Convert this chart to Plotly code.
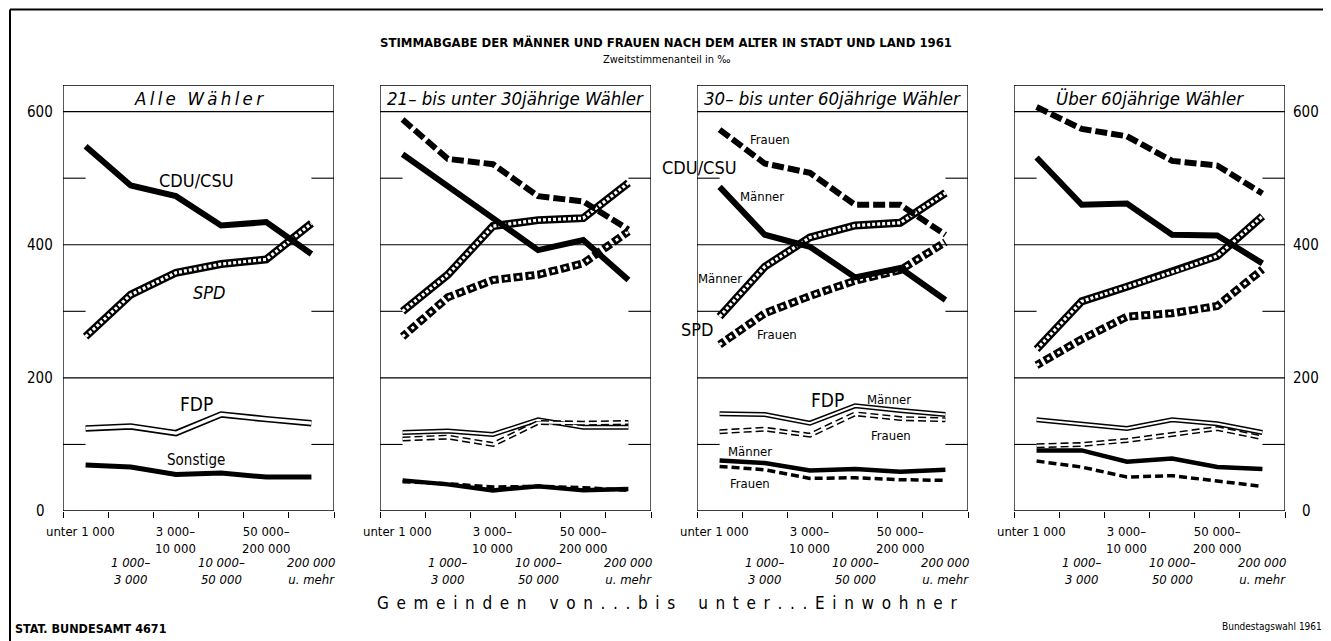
import plotly.graph_objects as go

# ---------------- data (‰ share of second votes) ----------------
categories = ["unter 1 000", "1 000–3 000", "3 000–10 000",
              "10 000–50 000", "50 000–200 000", "200 000 u. mehr"]
tick_labels = ["unter 1 000", "1 000–<br>3 000", "3 000–<br>10 000",
               "10 000–<br>50 000", "50 000–<br>200 000", "200 000<br>u. mehr"]
panel_titles = ["\u2009".join("Alle") + "\u2002\u2009" + "\u2009".join("Wähler"),
                "21– bis unter 30jährige Wähler",
                "30– bis unter 60jährige Wähler",
                "Über 60jährige Wähler"]
y_ticks = [0, 200, 400, 600]

# Alle Wähler
alle_cdu = [548, 489, 473, 429, 434, 386]
alle_spd = [262, 325, 358, 371, 378, 432]
alle_fdp = [124, 127, 117, 145, 138, 132]
alle_sonst = [69, 66, 55, 57, 51, 51]

# 21- bis unter 30jährige
jung_cdu_m = [536, 489, 440, 392, 407, 347]
jung_cdu_f = [588, 529, 521, 473, 465, 423]
jung_spd_m = [300, 355, 428, 437, 440, 493]
jung_spd_f = [262, 321, 347, 355, 372, 420]
jung_fdp_m = [118, 120, 115, 137, 126, 126]
jung_fdp_f = [108, 111, 100, 133, 132, 133]
jung_son_m = [46, 40, 31, 37, 31, 33]
jung_son_f = [44, 41, 36, 37, 35, 31]

# 30- bis unter 60jährige
mittel_cdu_m = [487, 415, 397, 351, 365, 317]
mittel_cdu_f = [573, 522, 508, 460, 460, 415]
mittel_spd_m = [292, 367, 411, 429, 433, 478]
mittel_spd_f = [250, 297, 323, 346, 362, 404]
mittel_fdp_m = [146, 145, 132, 158, 151, 145]
mittel_fdp_f = [119, 123, 114, 146, 139, 137]
mittel_son_m = [76, 72, 61, 63, 59, 62]
mittel_son_f = [67, 62, 49, 50, 47, 46]

# über 60jährige
alt_cdu_m = [531, 460, 462, 415, 414, 372]
alt_cdu_f = [607, 574, 563, 526, 519, 477]
alt_spd_m = [243, 315, 337, 359, 383, 443]
alt_spd_f = [219, 258, 292, 297, 308, 363]
alt_fdp_m = [137, 131, 124, 137, 131, 118]
alt_fdp_f = [98, 100, 106, 115, 124, 110]
alt_son_m = [91, 91, 74, 79, 66, 63]
alt_son_f = [75, 66, 51, 53, 45, 37]

# ---------------- styles / layout ----------------
OFF = 8                      # page body margin of the browser
W, H = 1331 - OFF, 641 - OFF
FONT = "DejaVu Sans Condensed, Liberation Sans Narrow, Arial Narrow, sans-serif"
panel_left = [63, 380, 697, 1014]
panel_width = 271
Y0_PX, YTOP_PX = 511, 85
YMAX = 640


def fx(px):
    return (px - OFF) / W


def fy(py):
    return 1 - (py - OFF) / H


STYLES = {
    "cdu_m": [("black", 6, "solid")],
    "cdu_f": [("black", 6, "12px,4px")],
    "spd_m": [("black", 8, "solid"), ("white", 3.2, "3px,2px")],
    "spd_f": [("black", 8, "6px,3px,3px,0px"), ("white", 3, "3px,9px")],
    "fdp_all": [("black", 6.5, "solid"), ("white", 3.2, "solid")],
    "fdp_m": [("black", 5, "solid"), ("white", 2, "solid")],
    "fdp_f": [("black", 5, "8px,4px"), ("white", 2, "solid")],
    "son_all": [("black", 5, "solid")],
    "son_m": [("black", 4.5, "solid")],
    "son_f": [("black", 3.5, "8px,4px")],
}

panels = [
    [("fdp_all", alle_fdp), ("son_all", alle_sonst), ("spd_m", alle_spd), ("cdu_m", alle_cdu)],
    [("fdp_m", jung_fdp_m), ("fdp_f", jung_fdp_f), ("son_m", jung_son_m), ("son_f", jung_son_f),
     ("spd_m", jung_spd_m), ("spd_f", jung_spd_f), ("cdu_f", jung_cdu_f), ("cdu_m", jung_cdu_m)],
    [("fdp_m", mittel_fdp_m), ("fdp_f", mittel_fdp_f), ("son_m", mittel_son_m), ("son_f", mittel_son_f),
     ("spd_m", mittel_spd_m), ("spd_f", mittel_spd_f), ("cdu_f", mittel_cdu_f), ("cdu_m", mittel_cdu_m)],
    [("fdp_m", alt_fdp_m), ("fdp_f", alt_fdp_f), ("son_m", alt_son_m), ("son_f", alt_son_f),
     ("spd_m", alt_spd_m), ("spd_f", alt_spd_f), ("cdu_f", alt_cdu_f), ("cdu_m", alt_cdu_m)],
]

fig = go.Figure()
layout = dict(width=W, height=H, autosize=False,
              margin=dict(l=0, r=0, t=0, b=0),
              paper_bgcolor="white", plot_bgcolor="white",
              showlegend=False, font=dict(family=FONT, color="black"))
shapes = []
annotations = []
xidx = list(range(len(categories)))

for i, series in enumerate(panels):
    n = "" if i == 0 else str(i + 1)
    xa, ya = f"x{n}", f"y{n}"
    layout[f"xaxis{n}"] = dict(
        domain=[fx(panel_left[i]), fx(panel_left[i] + panel_width)],
        range=[-0.5, 5.5], anchor=ya, showgrid=False, zeroline=False,
        showline=False, tickmode="array",
        tickvals=[k - 0.5 for k in range(7)], ticks="outside", ticklen=6,
        tickwidth=1.3, tickcolor="black", showticklabels=False, fixedrange=True)
    layout[f"yaxis{n}"] = dict(
        domain=[fy(Y0_PX), fy(YTOP_PX)], range=[0, YMAX], anchor=xa,
        showgrid=False, zeroline=False, showline=False,
        showticklabels=False, ticks="", fixedrange=True)

    # frame and grid
    shapes.append(dict(type="rect", xref=xa, yref=ya, x0=-0.5, x1=5.5, y0=0, y1=YMAX,
                       line=dict(color="black", width=1.3), layer="below"))
    for gv in (600, 400, 200):
        shapes.append(dict(type="line", xref=xa, yref=ya, x0=-0.5, x1=5.5, y0=gv, y1=gv,
                           line=dict(color="black", width=1.1), layer="below"))
    for gv in (500, 300, 100):
        for a, b in ((-0.5, 0), (5, 5.5)):
            shapes.append(dict(type="line", xref=xa, yref=ya, x0=a, x1=b, y0=gv, y1=gv,
                               line=dict(color="black", width=1.1), layer="below"))

    for key, vals in series:
        for color, width, dash in STYLES[key]:
            fig.add_trace(go.Scatter(x=xidx, y=vals, xaxis=xa, yaxis=ya, mode="lines",
                                     line=dict(color=color, width=width, dash=dash),
                                     hoverinfo="skip"))

    # panel header
    annotations.append(dict(text=f"<i>{panel_titles[i]}</i>", xref="paper", yref="paper",
                            x=fx(panel_left[i] + panel_width / 2), y=fy(99),
                            xanchor="center", yanchor="middle", showarrow=False,
                            font=dict(size=18.5, family=FONT)))
    # category labels
    for k, lab in enumerate(tick_labels):
        if k % 2 == 0:
            annotations.append(dict(text=lab, xref=xa, yref="paper", x=k, y=fy(522),
                                    xshift=-5 if k == 0 else 0,
                                    xanchor="center", yanchor="top", showarrow=False,
                                    font=dict(size=13, family=FONT)))
        else:
            annotations.append(dict(text=f"<i>{lab}</i>", xref=xa, yref="paper", x=k, y=fy(553),
                                    xanchor="center", yanchor="top", showarrow=False,
                                    font=dict(size=13, family=FONT)))

# y tick labels left and right
for v in y_ticks:
    annotations.append(dict(text=str(v), xref="paper", yref="y", x=fx(40), y=v,
                            xanchor="center", yanchor="middle", showarrow=False,
                            font=dict(size=15, family=FONT)))
    annotations.append(dict(text=str(v), xref="paper", yref="y4", x=fx(1306), y=v,
                            xanchor="center", yanchor="middle", showarrow=False,
                            font=dict(size=15, family=FONT)))


# series labels
def lab(text, axis, x, y, size=13):
    annotations.append(dict(text=text, xref=f"x{axis}", yref=f"y{axis}", x=x, y=y,
                            xanchor="center", yanchor="middle", showarrow=False,
                            font=dict(size=size, family=FONT)))


lab("CDU/CSU", "", 2.45, 497, 18)
lab("<i>SPD</i>", "", 2.75, 329, 18)
lab("FDP", "", 2.45, 161, 19)
lab("Sonstige", "", 2.45, 76, 15)

lab("Frauen", "3", 1.12, 558)
lab("CDU/CSU", "3", -0.45, 516, 18)
lab("Männer", "3", 0.95, 472)
lab("Männer", "3", 0.0, 350)
lab("SPD", "3", -0.5, 272, 18)
lab("Frauen", "3", 1.27, 265)
lab("FDP", "3", 2.4, 167, 19)
lab("Männer", "3", 3.75, 167)
lab("Frauen", "3", 3.8, 114)
lab("Männer", "3", 0.67, 89)
lab("Sonstige", "3", -0.74, 74, 15)
lab("Frauen", "3", 0.67, 42)

# titles and footers
annotations += [
    dict(text="<b>STIMMABGABE DER MÄNNER UND FRAUEN NACH DEM ALTER IN STADT UND LAND 1961</b>",
         xref="paper", yref="paper", x=fx(666), y=fy(42), xanchor="center", yanchor="middle",
         showarrow=False, font=dict(size=13, family=FONT)),
    dict(text="Zweitstimmenanteil in ‰", xref="paper", yref="paper", x=fx(666), y=fy(59),
         xanchor="center", yanchor="middle", showarrow=False, font=dict(size=11, family=FONT)),
    dict(text="\u2002".join("Gemeinden") + "\u2002\u2002\u2002" + "\u2002".join("von...bis")
         + "\u2002\u2002\u2002" + "\u2002".join("unter...Einwohner"),
         xref="paper", yref="paper", x=fx(667), y=fy(603), xanchor="center", yanchor="middle",
         showarrow=False, font=dict(size=17, family=FONT)),
    dict(text="<b>STAT. BUNDESAMT 4671</b>", xref="paper", yref="paper", x=fx(13), y=fy(628),
         xanchor="left", yanchor="middle", showarrow=False, font=dict(size=12.5, family=FONT)),
    dict(text="Bundestagswahl 1961", xref="paper", yref="paper", x=fx(1324), y=fy(626),
         xanchor="right", yanchor="middle", showarrow=False, font=dict(size=10, family=FONT)),
]

# outer frame (top and left)
shapes.append(dict(type="line", xref="paper", yref="paper", x0=fx(10), x1=1, y0=fy(9.5), y1=fy(9.5),
                   line=dict(color="black", width=2)))
shapes.append(dict(type="line", xref="paper", yref="paper", x0=fx(10), x1=fx(10), y0=fy(9.5), y1=0,
                   line=dict(color="black", width=2)))

layout["shapes"] = shapes
layout["annotations"] = annotations
fig.update_layout(**layout)
fig.write_html("out.html")
